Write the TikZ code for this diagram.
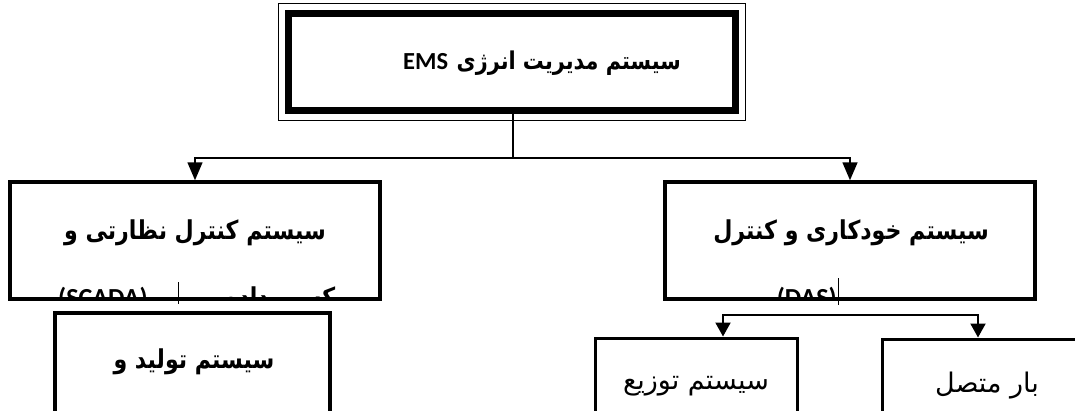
\documentclass[tikz,border=0pt]{standalone}
\usepackage{graphicx}
\usepackage{fontspec}
\newfontfamily\fa[Script=Arabic]{DejaVu Sans}
\newfontfamily\lat{Carlito}
\TeXXeTstate=1
\usetikzlibrary{arrows.meta}
% Persian headings are set a little narrower than the font's natural width
\newcommand\squeezetext[1]{\scalebox{0.85}[1]{#1}}

\begin{document}
\begin{tikzpicture}[x=1pt,y=-1pt,
  framebox/.style={draw=black, fill=white, inner sep=0pt},
  heavy/.style={framebox, line width=3.5pt},
  light/.style={framebox, line width=3pt},
  headtxt/.style={font=\fa\bfseries\fontsize{26}{30}\selectfont, inner sep=0pt},
  bodytxt/.style={font=\fa\fontsize{27}{31}\selectfont, inner sep=0pt},
  link/.style={draw=black, line width=1.5pt},
  arr/.style={link, -{Triangle[width=15pt,length=18pt]}},
  arrsmall/.style={draw=black, line width=2pt, -{Triangle[width=15pt,length=14pt]}}
]
\useasboundingbox (0,0) rectangle (1075,410);
\clip (0,0) rectangle (1075,410);
\fill[white] (0,0) rectangle (1075,410);

% top box: thick frame with a thin outer rule
\node[framebox, line width=7pt, minimum width=447pt, minimum height=97pt] (ems) at (512,62) {};
\draw[line width=1pt] ([shift={(-6.5,-6.5)}]ems.north west) rectangle ([shift={(6.5,6.5)}]ems.south east);
\node[headtxt, font=\fa\bfseries\fontsize{24.5}{29}\selectfont] (emst) at (542,63)
  {{\lat\bfseries EMS}\ \squeezetext{\beginR سیستم مدیریت انرژی\endR}};

% second level
\node[heavy, minimum width=370pt, minimum height=117pt] (scada) at (195,240.5) {};
\node[heavy, minimum width=370pt, minimum height=117pt] (das) at (850,240.5) {};
\begin{scope}
  \clip ([shift={(2,2)}]scada.north west) rectangle ([shift={(-2,-2)}]scada.south east);
  \node[headtxt] (scadat) at (195,233) {\squeezetext{\beginR سیستم کنترل نظارتی و\endR}};
  \node[headtxt, anchor=base west] (scadat2) at (58,306)
    {\hbox to 277pt{{\lat\bfseries(SCADA)}\hfil\squeezetext{\beginR کسب داده\endR}}};
\end{scope}
\begin{scope}
  \clip ([shift={(2,2)}]das.north west) rectangle ([shift={(-2,-2)}]das.south east);
  \node[headtxt] (dast) at (851,233) {\squeezetext{\beginR سیستم خودکاری و کنترل\endR}};
  \node[headtxt, anchor=base east] (dast2) at (837,306) {\lat\bfseries (DAS)};
\end{scope}

% connectors from the top box
\coordinate (split) at (513,158);
\draw[link] (split |- ems.south) -- (split);
\draw[arr] (split) -| (scada.north);
\draw[arr] (split) -| (das.north);

% third level
\node[light, line width=4pt, minimum width=275pt, minimum height=110pt] (gen) at (192.5,368) {};
\node[headtxt] (gent) at (194,362) {\squeezetext{\beginR سیستم تولید و\endR}};
\node[light, minimum width=202pt, minimum height=100pt] (dist) at (696,388) {};
\node[bodytxt] (distt) at (696,386) {\beginR سیستم توزیع\endR};
\node[light, minimum width=202pt, minimum height=100pt] (load) at (983,389) {};
\node[bodytxt] (loadt) at (987,386) {\beginR بار متصل\endR};

% short stubs crossing the lower edge of the second-level boxes
\coordinate (scadastub) at (178,282);
\draw[line width=1pt] (scadastub) -- ++(0,22);
\coordinate (dasstub) at (838,278);
\draw[line width=1pt] (dasstub) -- ++(0,27);

% branch to the distribution boxes
\coordinate (branch) at (838,315);
\coordinate (distin) at (723,0);
\coordinate (loadin) at (978,0);
\draw[arrsmall] (branch) -| (distin |- dist.north);
\draw[arrsmall] (branch) -| (loadin |- load.north);
\end{tikzpicture}
\end{document}
